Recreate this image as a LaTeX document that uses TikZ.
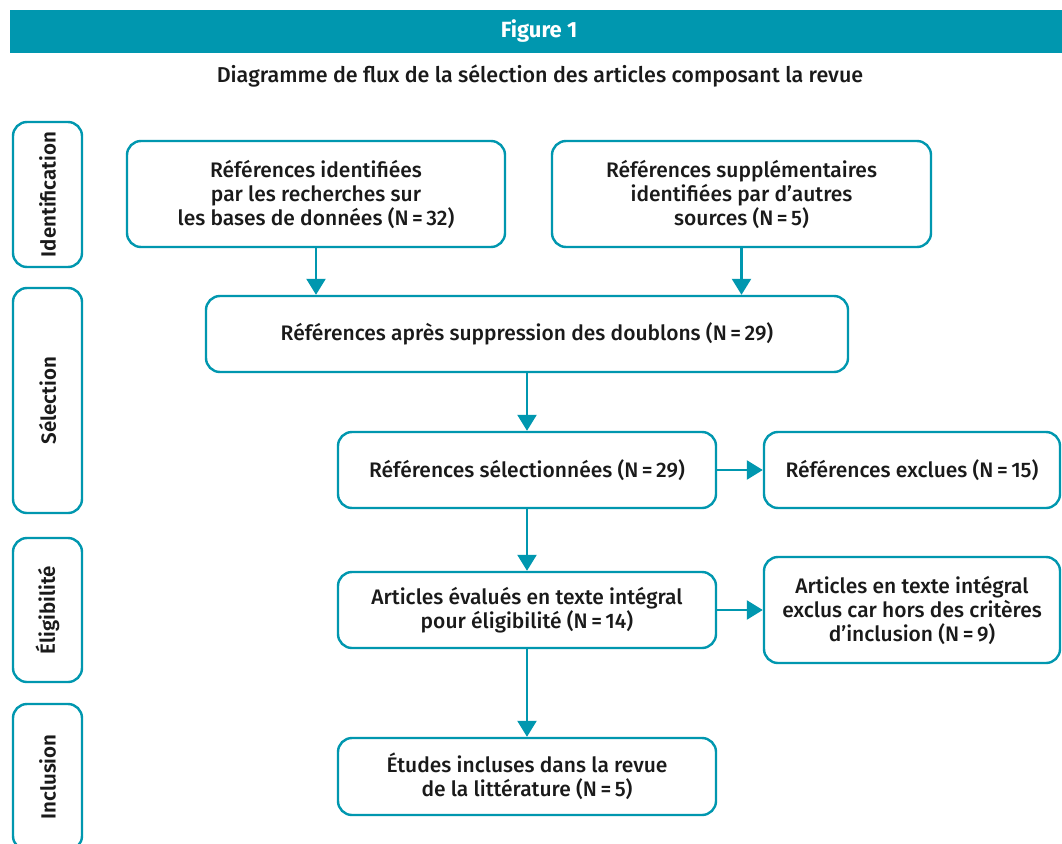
\documentclass[tikz,border=0pt]{standalone}
\usepackage{fontspec}
\setmainfont{Fira Sans}
\newfontfamily\medfont{Fira Sans Medium}
\newfontfamily\semifont{Fira Sans SemiBold}
\usetikzlibrary{arrows.meta}
\definecolor{teal1}{HTML}{0097AF}
\definecolor{ink}{HTML}{1A1A1A}
\begin{document}
\begin{tikzpicture}[x=1pt,y=-1pt,
  box/.style={draw=teal1, line width=2.4pt, rounded corners=14pt, align=center,
    text=ink, font=\medfont\fontsize{21}{24}\selectfont, inner sep=0pt},
  sidebox/.style={draw=teal1, line width=2.4pt, rounded corners=14pt, rotate=90,
    text=ink, font=\semifont\fontsize{20.5}{22}\selectfont, inner sep=0pt},
  arr/.style={draw=teal1, line width=2.4pt, -{Triangle[width=19pt,length=16pt]}}]
\useasboundingbox (0,0) rectangle (1062,843);
\fill[white] (0,0) rectangle (1062,843);
% banner
\fill[teal1] (10,10) rectangle (1062,53);
\node[text=white, font=\bfseries\fontsize{22}{24}\selectfont] (title) at (539,31.5) {Figure 1};
\node[text=ink, font=\medfont\fontsize{21.5}{24}\selectfont] (sub) at (540,76) {Diagramme de flux de la sélection des articles composant la revue};
% side labels
\node[sidebox, minimum width=145pt, minimum height=69pt] (sid) at (47.5,194.5) {Identification};
\node[sidebox, minimum width=225pt, minimum height=69pt] (ssel) at (47.5,400.5) {Sélection};
\node[sidebox, minimum width=144pt, minimum height=69pt] (selig) at (47.5,610) {Éligibilité};
\node[sidebox, minimum width=146pt, minimum height=69pt] (sinc) at (47.5,777) {Inclusion};
% boxes
\node[box, minimum width=378pt, minimum height=106pt] (b1) at (316,194) {Références identifiées\\par les recherches sur\\les bases de données (N\,=\,32)};
\node[box, minimum width=379pt, minimum height=106pt] (b2) at (741.5,194) {Références supplémentaires\\identifiées par d’autres\\sources (N\,=\,5)};
\node[box, minimum width=642pt, minimum height=76pt] (b3) at (527,334) {Références après suppression des doublons (N\,=\,29)};
\node[box, minimum width=378pt, minimum height=76pt] (b4) at (527,470) {Références sélectionnées (N\,=\,29)};
\node[box, minimum width=296pt, minimum height=76pt] (b5) at (912,470) {Références exclues (N\,=\,15)};
\node[box, minimum width=378pt, minimum height=76pt] (b6) at (527,610) {Articles évalués en texte intégral\\pour éligibilité (N\,=\,14)};
\node[box, minimum width=296pt, minimum height=106pt] (b7) at (912,610) {Articles en texte intégral\\exclus car hors des critères\\d’inclusion (N\,=\,9)};
\node[box, minimum width=378pt, minimum height=77pt] (b8) at (527,776.5) {Études incluses dans la revue\\de la littérature (N\,=\,5)};
% arrows
\draw[arr] (b1.south) -- (b1.south |- b3.north);
\draw[arr] (b2.south) -- (b2.south |- b3.north);
\draw[arr] (b3.south) -- (b4.north);
\draw[arr] (b4.east) -- (b5.west);
\draw[arr] (b4.south) -- (b6.north);
\draw[arr] (b6.east) -- (b7.west);
\draw[arr] (b6.south) -- (b8.north);
\end{tikzpicture}
\end{document}
